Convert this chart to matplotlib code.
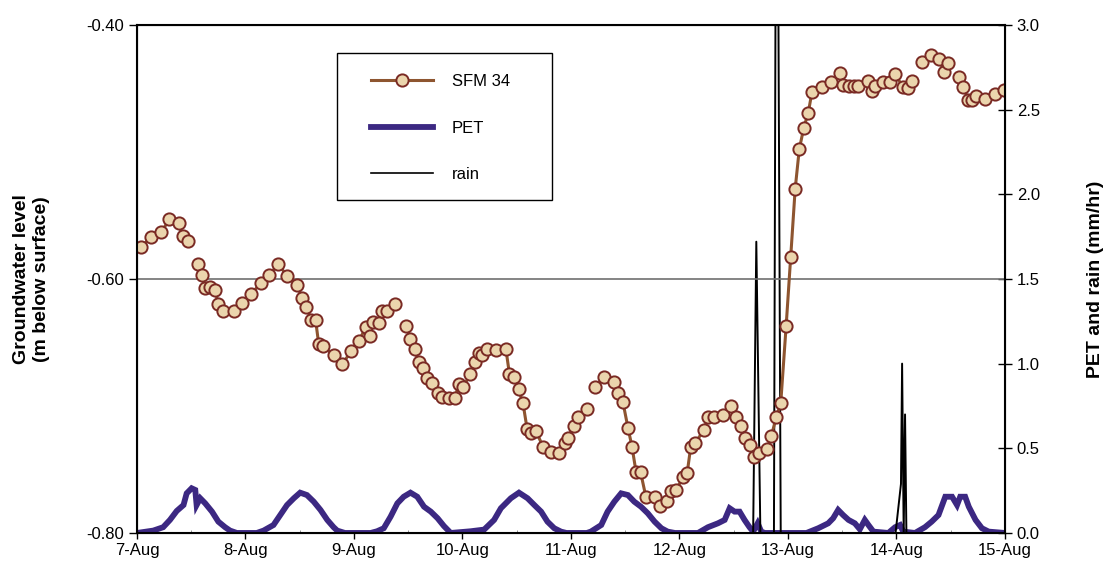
"""Groundwater level at SFM 34 against PET and rain, 7-15 Aug."""

import numpy as np
import matplotlib
matplotlib.use("Agg")
import matplotlib.pyplot as plt
from matplotlib.lines import Line2D
from matplotlib.patches import Rectangle

plt.rcParams["font.family"] = ["Liberation Sans", "DejaVu Sans"]

# hours since 7-Aug 00:00, NaN marks a missing reading
sfm_hours = [
    1.0, 3.0, 5.4, 7.2, 9.2, 10.1, 11.2, 12.3, 13.4, 14.3, 15.1, 16.2, 17.3, 18.0,
    19.1, 21.4, 23.3, 25.2, 27.5, 29.3, 31.3, 33.2, 35.5, 36.5, 37.5, 38.5, 39.5,
    40.2, 41.2, 43.5, 45.4, 47.4, 49.1, 50.6, 51.5, 52.3, 53.5, 54.1, 55.2, 57.1,
    58.3, 59.6, 60.5, 61.4, 62.3, 63.3, 64.2, 65.2, 66.5, 67.5, 69.0, 70.3, 71.2,
    72.2, 73.7, 74.7, 75.7, 76.4, 77.4, 79.4, 81.6, 82.4, 83.5, 84.4, 85.4, 86.3,
    87.2, 88.3, 89.8, 91.6, 93.4, 94.6, 95.3, 96.6, 97.5, 99.6, 100.5, 101.4, 103.3,
    105.6, 106.5, 107.5, 108.6, 109.5, 110.4, 111.4, 112.6, 114.5, 115.6, 117.3,
    118.2, 119.3, 120.8, 121.7, 122.5, 123.5, 125.4, 126.3, 127.7, 129.7, 131.5,
    132.6, 133.6, 134.4, 135.6, 136.6, 137.7, 139.4, 140.3, 141.4, 142.4, 143.6,
    144.6, 145.6, 146.5, 147.5, 148.5, 149.3, 151.6, 153.6, 155.5, 156.2, 157.4,
    158.5, 159.6, 161.6, 162.5, 163.3, 165.1, 166.6, 167.7, 169.5, 170.5, 171.5,
    172.6, 173.7, 175.7, 177.4, 178.6, 179.5, 180.7, 181.9, 182.8, 183.9, 184.7,
    185.6, 187.5, 189.9, 191.7,
]
sfm_level = [
    -0.575, -0.567, -0.563, -0.553, -0.556, -0.566, -0.570, np.nan, -0.588, -0.597,
    -0.607, -0.606, -0.609, -0.620, -0.625, -0.625, -0.619, -0.612, -0.603, -0.597,
    -0.588, -0.598, -0.605, -0.615, -0.622, -0.632, -0.632, -0.651, -0.653, -0.660,
    -0.667, -0.657, -0.649, -0.638, -0.645, -0.634, -0.635, -0.625, -0.625, -0.620,
    np.nan, -0.637, -0.647, -0.655, -0.665, -0.670, -0.678, -0.682, -0.690, -0.693,
    -0.694, -0.694, -0.683, -0.685, -0.675, -0.665, -0.658, -0.660, -0.655, -0.656,
    -0.655, -0.675, -0.677, -0.687, -0.698, -0.718, -0.721, -0.720, -0.732, -0.736,
    -0.737, -0.729, -0.725, -0.716, -0.709, -0.702, np.nan, -0.685, -0.677, -0.681,
    -0.690, -0.697, -0.717, -0.732, -0.752, -0.752, -0.772, -0.772, -0.779, -0.775,
    -0.767, -0.766, -0.756, -0.753, -0.732, -0.729, -0.719, -0.709, -0.709, -0.707,
    -0.700, -0.709, -0.716, -0.725, -0.731, -0.740, -0.737, -0.734, -0.724, -0.709,
    -0.698, -0.637, -0.583, -0.529, -0.498, -0.481, -0.469, -0.453, -0.449, -0.445,
    -0.438, -0.447, -0.448, -0.448, -0.448, -0.444, -0.452, -0.448, -0.445, -0.445,
    -0.439, -0.449, -0.450, -0.444, np.nan, -0.429, -0.424, -0.427, -0.437, -0.430,
    np.nan, -0.441, -0.449, -0.459, -0.459, -0.456, -0.458, -0.454, -0.451,
]

pet_hours = [
    0, 3.6, 5.8, 7.3, 8.8, 10.3, 11.0, 12.1, 12.9, 13.2, 14.0, 15.1, 16.6, 18.0,
    19.5, 20.6, 22.1,
    26.5, 28.0, 30.2, 31.7, 33.2, 34.7, 36.1, 37.6, 39.1, 40.6, 42.1, 43.5, 44.3,
    46.0,
    51.7, 53.1, 54.6, 56.1, 57.6, 59.0, 60.5, 62.0, 63.5, 65.0, 66.5, 67.9, 69.4,
    73.8, 76.8, 79.0, 80.5, 82.7, 84.5, 86.4, 87.9, 89.4, 90.8, 92.3, 93.8, 95.0,
    99.5, 100.4, 102.7, 104.1, 105.6, 107.1, 108.6, 110.0, 111.5, 113.0, 114.5,
    116.0, 117.4, 119.0,
    124.1, 126.3, 128.5, 130.0, 131.1, 132.2, 133.3, 134.4, 135.5, 136.3, 137.3,
    138.1, 138.9, 140.0,
    148.1, 150.7, 152.9, 154.0, 155.1, 156.2, 157.4, 158.8, 159.9, 161.0, 161.8,
    162.9, 166.2, 167.7, 168.8, 169.5,
    172.1, 174.3, 175.8, 177.3, 178.8, 180.3, 181.4, 182.1, 183.2, 184.0, 185.5,
    186.9, 188.4, 192.0,
]
pet_rate = [
    0.0, 0.014, 0.034, 0.077, 0.130, 0.165, 0.234, 0.264, 0.254, 0.165, 0.205,
    0.175, 0.126, 0.067, 0.034, 0.014, 0.0,
    0.0, 0.014, 0.047, 0.106, 0.165, 0.205, 0.238, 0.224, 0.185, 0.136, 0.077,
    0.034, 0.014, 0.0,
    0.0, 0.010, 0.028, 0.096, 0.175, 0.214, 0.238, 0.214, 0.155, 0.126, 0.087,
    0.041, 0.0,
    0.010, 0.020, 0.077, 0.146, 0.205, 0.238, 0.205, 0.165, 0.126, 0.067, 0.028,
    0.008, 0.0,
    0.0, 0.008, 0.047, 0.126, 0.185, 0.234, 0.224, 0.185, 0.155, 0.116, 0.067,
    0.028, 0.008, 0.0,
    0.0, 0.034, 0.057, 0.077, 0.146, 0.126, 0.126, 0.077, 0.034, 0.008, 0.057,
    0.008, 0.0, 0.0,
    0.0, 0.028, 0.057, 0.087, 0.136, 0.106, 0.077, 0.057, 0.022, 0.077, 0.047,
    0.008, 0.0, 0.034, 0.047, 0.008,
    0.0, 0.034, 0.067, 0.106, 0.214, 0.214, 0.165, 0.214, 0.214, 0.155, 0.077,
    0.028, 0.008, 0.0,
]

rain_hours = [0, 136.3, 137.0, 137.9, 140.9, 141.3, 141.8, 142.4,
              167.8, 169.0, 169.25, 169.6, 169.9, 170.2, 192]
rain_rate = [0, 0, 1.72, 0, 0, 3.6, 3.6, 0,
             0, 0.29, 1.0, 0, 0.70, 0, 0]

day_labels = ["7-Aug", "8-Aug", "9-Aug", "10-Aug", "11-Aug",
              "12-Aug", "13-Aug", "14-Aug", "15-Aug"]

fig = plt.figure(figsize=(11.08, 5.76), dpi=100)
ax = fig.add_axes([0.1236, 0.0747, 0.7834, 0.882])
ax2 = ax.twinx()

# right axis behind the groundwater series
ax.set_zorder(ax2.get_zorder() + 1)
ax.patch.set_visible(False)

ax2.plot(pet_hours, pet_rate, color="#3C2882", lw=4.2, solid_joinstyle="miter")
ax2.plot(rain_hours, rain_rate, color="black", lw=1.4)
ax.plot(sfm_hours, sfm_level, color="#8E5530", lw=2.2, marker="o",
        markersize=8.8, markerfacecolor="#EBD5AD", markeredgecolor="#7A2A24",
        markeredgewidth=1.4)

ax.set_xlim(0, 192)
ax.set_ylim(-0.80, -0.40)
ax2.set_ylim(0, 3.0)

ax.set_xticks(np.arange(0, 193, 24))
ax.set_xticklabels(day_labels, fontsize=12)
ax.set_xticks(np.arange(12, 192, 24), minor=True)
ax.tick_params(axis="x", which="major", direction="out", length=4, width=1)
ax.tick_params(axis="x", which="minor", direction="in", length=2, color="gray")

ax.set_yticks([-0.80, -0.60, -0.40])
ax.set_yticklabels(["-0.80", "-0.60", "-0.40"], fontsize=12)
ax.tick_params(axis="y", direction="out", length=6, width=1)
ax.yaxis.grid(True, color="#707070", lw=1.2)

ax2.set_yticks(np.arange(0, 3.01, 0.5))
ax2.set_yticklabels([f"{v:.1f}" for v in np.arange(0, 3.01, 0.5)], fontsize=12)
ax2.tick_params(axis="y", direction="inout", length=10, width=1)

for sp in ax.spines.values():
    sp.set_linewidth(1.5)
ax2.spines["right"].set_color("#555555")

ax.set_ylabel("Groundwater level\n(m below surface)", fontsize=14,
              fontweight="bold", labelpad=26)
ax2.set_ylabel("PET and rain (mm/hr)", fontsize=14, fontweight="bold",
               labelpad=34)

# legend frame drawn separately so the entries can sit where they do
frame = Rectangle((337 / 1108, 1 - 200 / 576), 215 / 1108, 147 / 576,
                  transform=fig.transFigure, facecolor="white",
                  edgecolor="black", lw=1.0, zorder=4.5, clip_on=False)
ax.add_patch(frame)

handles = [
    Line2D([], [], color="#8E5530", lw=2.2, marker="o", markersize=8.8,
           markerfacecolor="#EBD5AD", markeredgecolor="#7A2A24",
           markeredgewidth=1.4),
    Line2D([], [], color="#3C2882", lw=4.2),
    Line2D([], [], color="black", lw=1.2),
]
leg = ax.legend(handles, ["SFM 34", "PET", "rain"], loc="upper left",
                bbox_to_anchor=(371 / 1108, 1 - 74 / 576),
                bbox_transform=fig.transFigure, borderaxespad=0, borderpad=0,
                fontsize=12, frameon=False, handlelength=3.7,
                handletextpad=1.15, labelspacing=1.9)
leg.set_zorder(6)

fig.savefig("out.png", dpi=100)
